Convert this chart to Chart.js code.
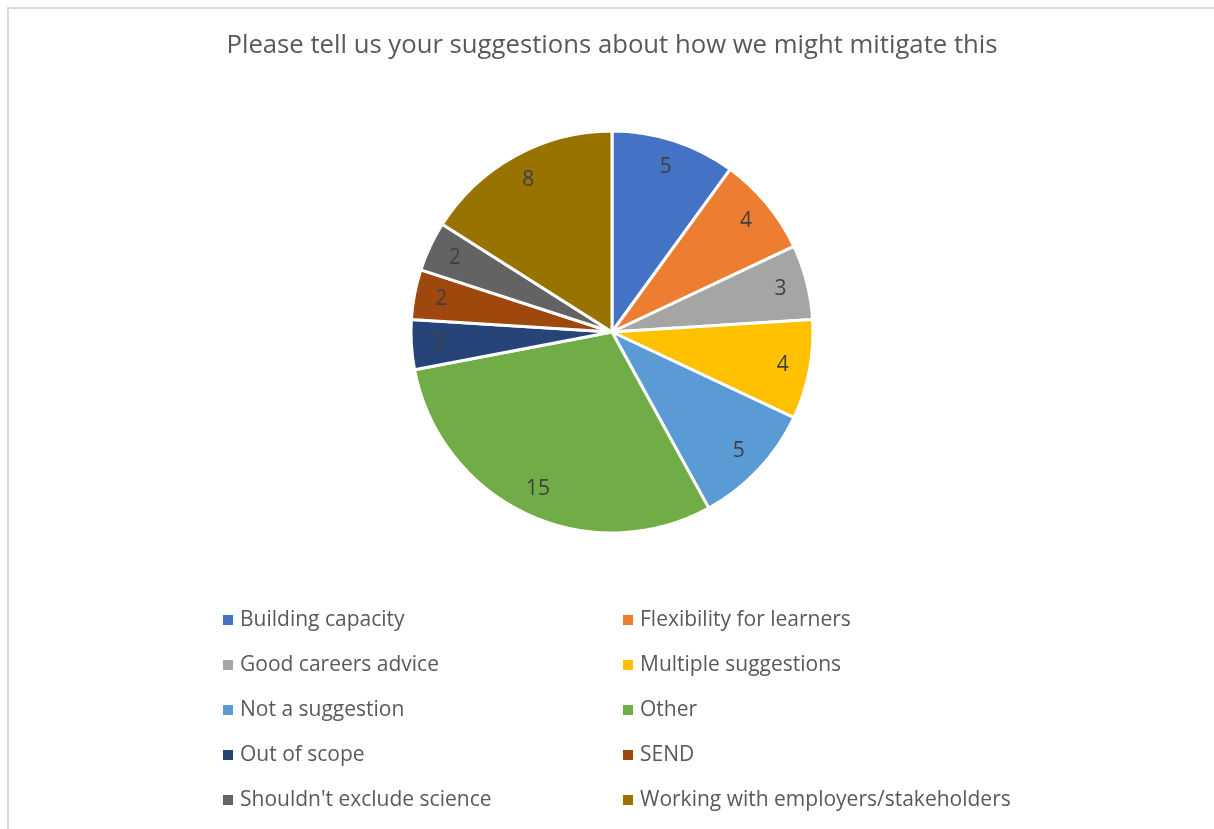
<!DOCTYPE html>
<html>
<head>
<meta charset="utf-8">
<style>
  html, body { margin: 0; padding: 0; background: #fff; }
  #wrap { width: 1214px; height: 829px; }
</style>
<script src="https://cdn.jsdelivr.net/npm/chart.js@4/dist/chart.umd.min.js"></script>
</head>
<body>
<div id="wrap"><canvas id="myChart" width="1214" height="829"></canvas></div>
<script>
const chartTitle = "Please tell us your suggestions about how we might mitigate this";

const categories = [
  "Building capacity",
  "Flexibility for learners",
  "Good careers advice",
  "Multiple suggestions",
  "Not a suggestion",
  "Other",
  "Out of scope",
  "SEND",
  "Shouldn't exclude science",
  "Working with employers/stakeholders",
];

const counts = [5, 4, 3, 4, 5, 15, 2, 2, 2, 8];

const colours = [
  "#4472C4", "#ED7D31", "#A5A5A5", "#FFC000", "#5B9BD5",
  "#70AD47", "#264478", "#9E480E", "#636363", "#997300",
];

const FONT = "'Open Sans', 'Noto Sans', sans-serif";
const TEXT = "#595959";

// frame, title, value labels and a two-column legend
const decor = {
  id: "decor",
  beforeDraw(chart) {
    const c = chart.ctx;
    c.save();
    c.strokeStyle = "#d9d9d9";
    c.lineWidth = 2;
    c.beginPath();
    c.moveTo(8, chart.height);
    c.lineTo(8, 8);
    c.lineTo(chart.width, 8);
    c.stroke();

    c.fillStyle = TEXT;
    c.font = "25.7px " + FONT;
    c.textAlign = "center";
    c.textBaseline = "middle";
    c.fillText(chartTitle, 612, 46);
    c.restore();
  },
  afterDraw(chart) {
    const c = chart.ctx;
    const meta = chart.getDatasetMeta(0);
    c.save();
    c.font = "21px " + FONT;
    c.fillStyle = "#404040";
    c.textAlign = "center";
    c.textBaseline = "middle";
    meta.data.forEach((arc, i) => {
      const p = arc.getProps(["x", "y", "startAngle", "endAngle", "outerRadius"], true);
      const mid = (p.startAngle + p.endAngle) / 2;
      const r = p.outerRadius * 0.865;
      c.fillText(String(chart.data.datasets[0].data[i]), p.x + Math.cos(mid) * r, p.y + Math.sin(mid) * r);
    });

    c.font = "21px " + FONT;
    c.textAlign = "left";
    chart.data.labels.forEach((lab, i) => {
      const col = i % 2;
      const row = Math.floor(i / 2);
      const x = col === 0 ? 223 : 623;
      const y = 620 + row * 45;
      c.fillStyle = colours[i];
      c.fillRect(x, y - 5, 10, 10);
      c.fillStyle = TEXT;
      c.fillText(lab, x + 17, y);
    });
    c.restore();
  },
};

new Chart(document.getElementById("myChart"), {
  type: "pie",
  data: {
    labels: categories,
    datasets: [
      {
        data: counts,
        backgroundColor: colours,
        borderColor: "#ffffff",
        borderWidth: 3,
        hoverOffset: 0,
      },
    ],
  },
  options: {
    responsive: false,
    animation: false,
    events: [],
    radius: 201,
    layout: { padding: { left: 10, right: 0, top: 100, bottom: 265 } },
    plugins: {
      legend: { display: false },
      title: { display: false },
      tooltip: { enabled: false },
    },
  },
  plugins: [decor],
});
</script>
</body>
</html>
